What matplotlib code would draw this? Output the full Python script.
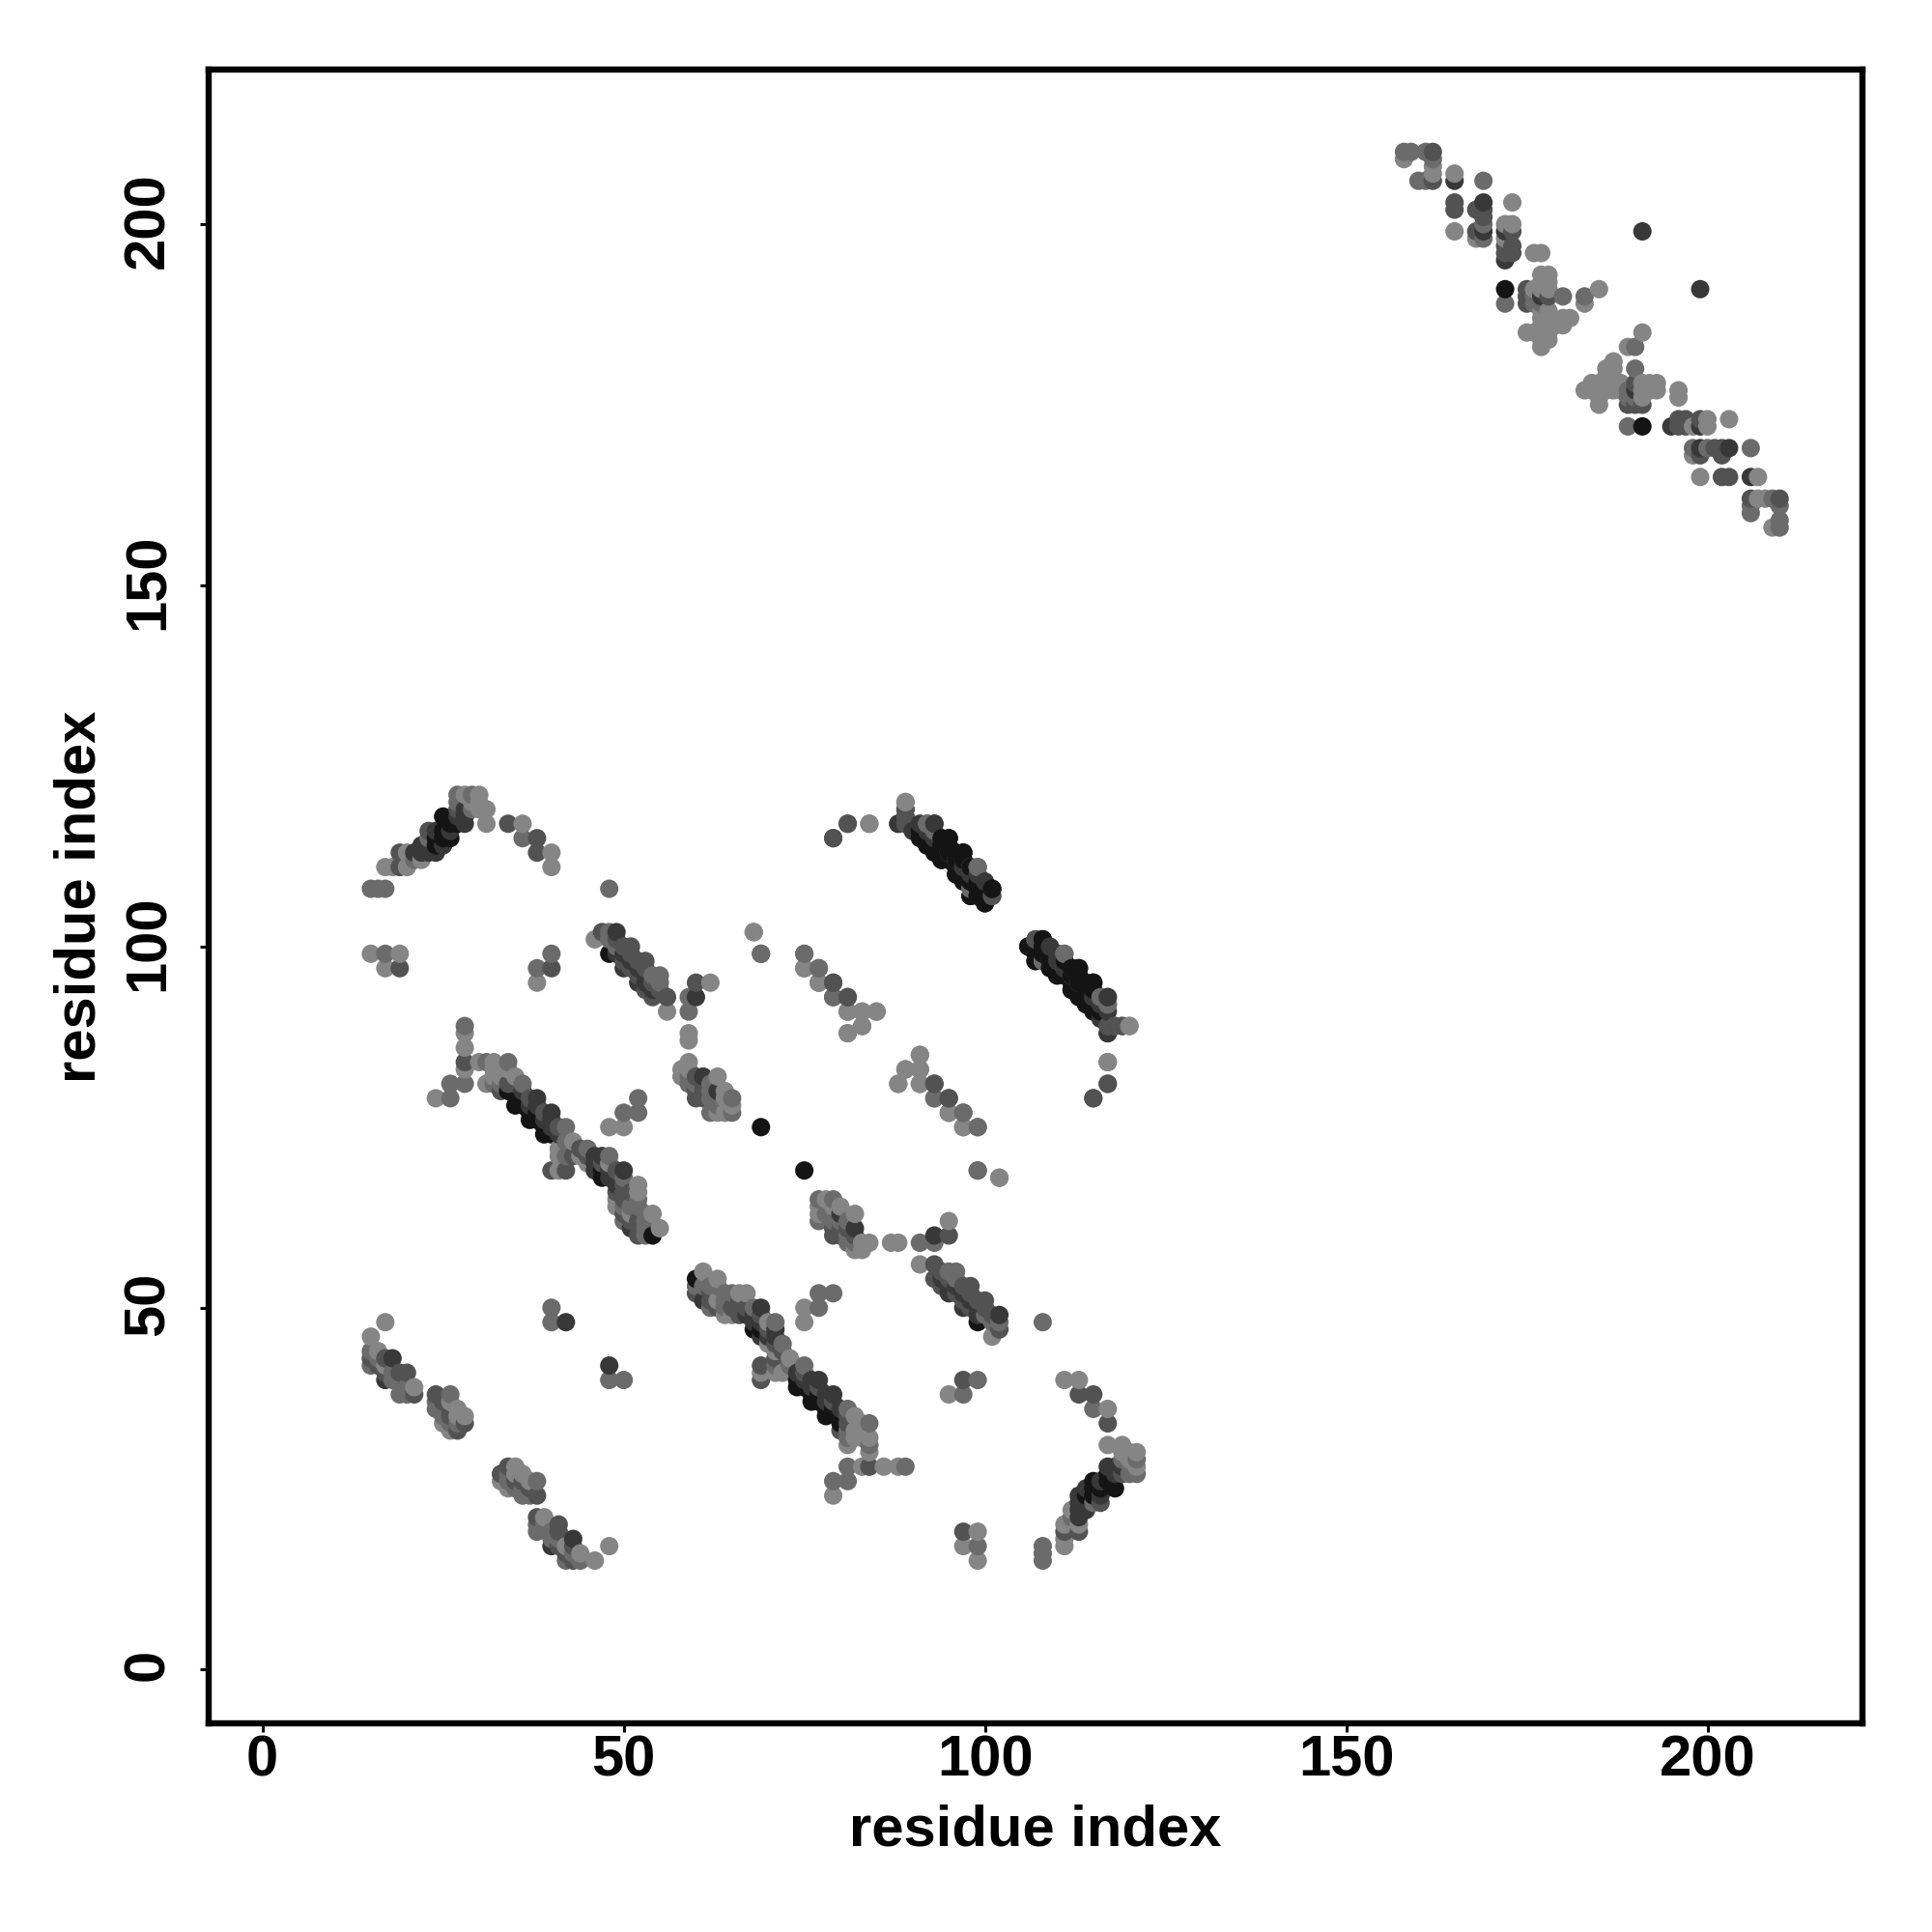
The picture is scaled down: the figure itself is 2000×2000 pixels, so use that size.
import numpy as np
import matplotlib
matplotlib.use('Agg')
import matplotlib.pyplot as plt
from matplotlib.transforms import ScaledTranslation

# contacts as (i, j) with i < j, the plot is symmetric so they get mirrored below
light = [(17,111),(18,111),(20,111),(20,113),(22,112),(28,121),(30,121),(29,120),(30,120),(30,119),(31,119),(31,117),(36,117),(40,113),(40,111),
         (15,99),(19,99),(17,97),(38,95),(68,102),
         (46,101),(56,91),(62,95),(59,88),(59,87),
         (59,84),(58,83),(58,82),(59,83),(63,82),(64,80),(64,79),(63,77),(64,77),(65,78),
         (28,88),(28,86),(28,83),(24,79),
         (30,84),(32,84),(31,81),(32,83),(33,82),(34,83),(32,82),(35,82),(43,73),(41,72),(44,71),(45,70),(41,69),(41,71),(48,70),
         (48,75),(50,75),(52,67),(52,66),(54,63),(55,61),(49,64),(51,63),(49,65),
         (17,48),(15,46),(16,44),(21,39),(17,42),(27,36),(26,37),(28,35),(26,33),(25,34),(27,35),
         (84,117),(89,120),(98,111),
         (75,97),(83,91),(85,91),(83,89),(81,88),(81,91),(77,95),
         (91,85),(89,83),(91,83),(88,81),(91,81),(97,75),(99,75),(95,77),(102,68),
         (108,98),(120,89),(117,84)]
light_top = [(158,209),(162,207),(162,208),(165,207),(165,199),(173,203),(168,198),(172,198),(172,200),(173,200),(176,196),(177,196),
             (177,193),(178,193),(178,192),(177,192),(178,191),(177,191),(176,191),(183,189),(185,191),(177,188),(178,188),(177,187),(178,187),
             (180,187),(181,187),(180,186),(175,185),(176,185),(177,185),(178,185),(177,184),(178,184),(177,183),(178,186),(177,186),(179,186)]
medium = [(15,108),(16,108),(17,108),(21,112),(27,121),(29,121),(27,120),(29,119),(36,115),(23,115),
          (48,108),(17,99),(40,99),(38,97),(69,99),
          (48,102),(48,101),(49,100),(54,96),(55,96),(55,95),(59,93),(59,91),
          (59,82),(59,81),(62,79),(63,78),(62,77),(65,77),(65,79),(60,81),(62,80),(62,81),
          (28,89),(26,81),(26,79),(28,81),
          (31,84),(34,84),(32,81),(36,81),(33,81),(42,75),(42,73),(45,72),(48,71),(42,71),
          (52,79),(50,77),(52,77),(50,68),(50,62),(53,62),(51,64),(52,64),(53,61),(52,65),(53,60),(50,64),(53,63),
          (15,44),(15,42),(18,41),(19,40),(19,38),(20,38),(26,38),(24,37),(24,36),(27,34),(25,35),(16,43),(18,40),(20,39),(25,36),(26,34),
          (40,50),(40,48),
          (92,117),(89,119),(96,112),(99,111),(98,108),
          (75,99),(77,97),(79,93),(93,79),(97,77),(99,69),
          (107,101),(111,99),(116,93),(117,92),(118,89),(117,81)]
medium_top = [(158,210),(159,210),(161,210),(162,209),(160,206),(161,206),(169,206),(169,198),(169,200),(172,189),(176,189),(176,190),(177,189),(180,190),(183,190)]
dark = [(19,111),(19,113),(23,116),(34,117),(38,115),(38,113),(27,119),
        (19,97),(40,97),
        (47,102),(49,101),(51,100),(53,98),(56,93),(50,98),(51,97),(52,96),(53,94),(54,93),(60,95),
        (50,100),(51,99),(52,98),(53,97),(55,94),(54,95),
        (60,82),(60,80),(61,80),(60,79),(61,79),(61,81),(28,84),
        (33,80),(35,81),(37,79),(39,77),(41,75),(49,69),(42,69),(40,69),(43,71),(34,81),(44,72),(45,71),(47,70),
        (49,66),(50,66),(52,60),(50,65),(50,67),(51,66),(50,63),(51,62),(52,62),
        (15,43),(20,41),(17,41),(16,42),(21,38),(24,38),(28,34),(27,33),(26,35),(17,43),(19,41),(25,37),(26,36),
        (79,115),(81,117),(89,118),(88,117),(89,117),(93,117),(95,113),(101,107),
        (79,95),(81,93),(93,81),(95,79),
        (111,97),(115,79),(117,89),(119,89)]
dark_top = [(162,210),(162,206),(165,202),(165,203),(168,202),(169,202),(168,199),(173,199),(172,197),(173,197),(173,196),(172,196),
            (175,189),(175,190),(175,191),(178,190),(169,201)]
darker = [(21,113),(22,114),(23,113),(24,113),(25,114),(26,116),(28,118),(27,118),(28,117),(28,119),(23,114),(24,116),(22,113),
          (49,102),(50,97),(52,95),(60,93),(49,99),(50,99),(51,98),(52,97),(53,96),(53,95),(54,94),
          (61,82),(63,80),
          (38,79),(40,77),(46,71),(47,71),(50,69),(49,68),(37,78),(39,76),(51,61),(40,75),(41,74),(38,78),(36,80),(40,76),(46,70),(46,69),(48,68),(48,69),(49,67),
          (18,43),(17,40),(42,48),
          (91,117),(93,115),(97,111),(100,109),(99,110),(98,110),
          (110,99),(112,97),(116,90),(117,93),(117,88),(109,98),(115,93),(116,92),(116,91)]
darker_top = [(165,206),(169,203),(169,199),(172,199),(172,195),(177,190),(191,199)]
black = [(24,115),(25,118),(26,115),(27,117),(25,116),(24,114),(25,115),(26,117),
         (48,99),(34,80),(35,78),(37,76),(39,74),(47,68),(36,79),(38,77),(54,60),(36,78),(37,77),(38,76),(39,75),(40,74),(47,69),
         (69,75),
         (91,116),(92,114),(94,112),(96,110),(98,107),(100,106),(95,115),(97,113),(99,108),(101,108),(92,115),(93,114),(94,113),(95,112),(96,111),(97,110),(98,109),(99,107),(100,108),
         (94,114),(94,115),(95,114),(96,113),(97,112),(99,109),
         (108,101),(106,100),(107,100),(107,99),(107,98),(108,100),(110,96),(113,97),(112,94),(115,95),(114,92),(109,97),(111,96),(112,95),(113,94),(114,93),(115,92),(113,93),(115,91),
         (110,97),(111,98),(112,96),(113,95),(114,94)]
black_top = [(172,191)]

groups = [(light + light_top, '#858585'), (medium + medium_top, '#6b6b6b'), (dark + dark_top, '#525252'),
          (darker + darker_top, '#383838'), (black + black_top, '#141414')]
ticks = [0, 50, 100, 150, 200]

xs, ys, cols = [], [], []
for pairs, c in groups:
    for a, b in pairs:
        xs += [a, b]
        ys += [b, a]
        cols += [c, c]
xs = np.array(xs)
ys = np.array(ys)
cols = np.array(cols)
# later residues get painted over earlier ones
order = np.lexsort((ys, xs))

plt.rcParams['font.family'] = ['Liberation Sans', 'DejaVu Sans']
plt.rcParams['font.weight'] = 'bold'

fig = plt.figure(figsize=(20, 20), dpi=100)
ax = fig.add_axes([216 / 2000, 1 - 1784 / 2000, (1928.3 - 216) / 2000, (1784 - 72) / 2000])
ax.scatter(xs[order], ys[order], c=cols[order], s=188, linewidths=0, clip_on=False)

ax.set_xlim(-7.45, 221.5)
ax.set_ylim(-7.53, 221.4)
ax.set_xticks(ticks)
ax.set_yticks(ticks)
ax.tick_params(axis='x', labelsize=43, length=6.5, width=2.2, pad=2)
ax.tick_params(axis='y', labelsize=43, length=6.5, width=2.2, pad=18.5, labelrotation=90)
shift = ScaledTranslation(0, 3 / 72, fig.dpi_scale_trans)
for t in ax.get_yticklabels():
    t.set_va('center')
    t.set_transform(t.get_transform() + shift)
for s in ax.spines.values():
    s.set_linewidth(4.6)

ax.set_xlabel('residue index', fontsize=43, fontweight='bold')
ax.set_ylabel('residue index', fontsize=43, fontweight='bold')
ax.xaxis.set_label_coords(0.5, -0.049)
ax.yaxis.set_label_coords(-0.0615, 0.5)

fig.savefig('out.png', dpi=100)
